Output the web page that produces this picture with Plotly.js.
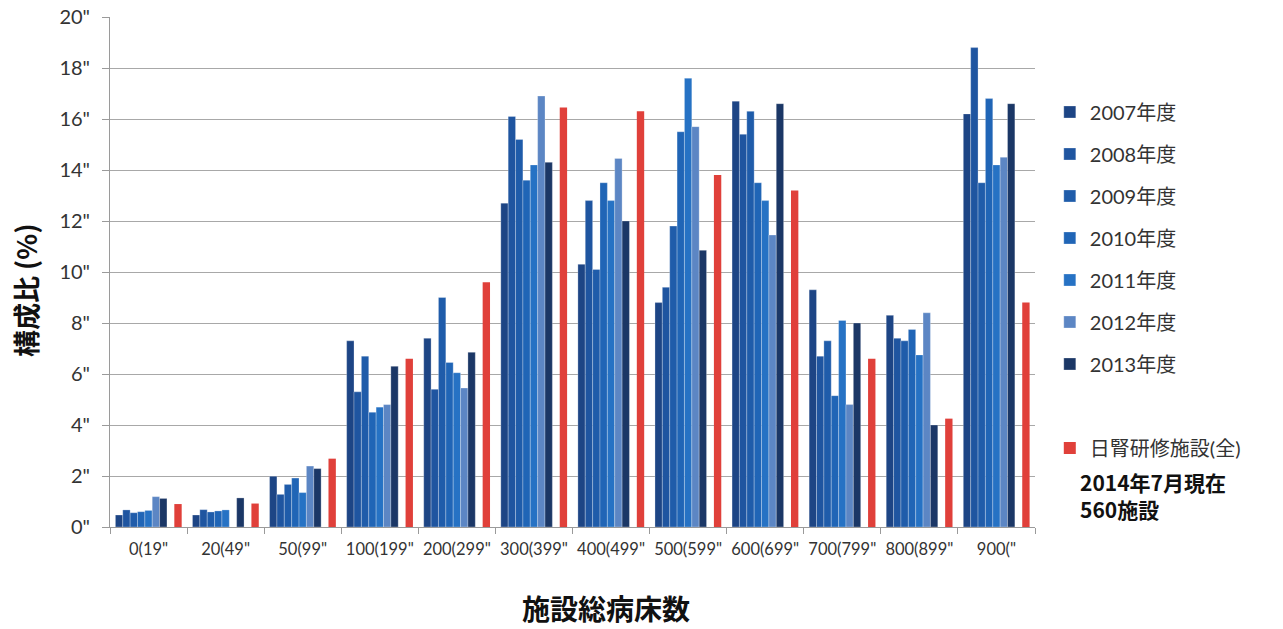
<!DOCTYPE html>
<html>
<head>
<meta charset="utf-8">
<script src="https://cdn.plot.ly/plotly-3.0.1.min.js"></script>
<style>
  html, body { margin: 0; padding: 0; background: #ffffff; }
  #chart { width: 1283px; height: 629px; }
</style>
</head>
<body>
<div id="chart"></div>
<script>
// ---- data ----
const categories = ['0(19"', '20(49"', '50(99"', '100(199"', '200(299"', '300(399"',
                    '400(499"', '500(599"', '600(699"', '700(799"', '800(899"', '900("'];

const fy2007 = [0.47, 0.47, 1.99, 7.3, 7.4, 12.7, 10.3, 8.8, 16.7, 9.3, 8.3, 16.2];
const fy2008 = [0.67, 0.68, 1.28, 5.3, 5.4, 16.1, 12.8, 9.4, 15.4, 6.7, 7.4, 18.8];
const fy2009 = [0.56, 0.59, 1.67, 6.7, 9.0, 15.2, 10.1, 11.8, 16.3, 7.3, 7.3, 13.5];
const fy2010 = [0.60, 0.63, 1.92, 4.5, 6.45, 13.6, 13.5, 15.5, 13.5, 5.15, 7.75, 16.8];
const fy2011 = [0.65, 0.67, 1.35, 4.7, 6.05, 14.2, 12.8, 17.6, 12.8, 8.1, 6.75, 14.2];
const fy2012 = [1.19, null, 2.39, 4.8, 5.45, 16.9, 14.45, 15.7, 11.45, 4.8, 8.4, 14.5];
const fy2013 = [1.12, 1.14, 2.29, 6.3, 6.85, 14.3, 12.0, 10.85, 16.6, 8.0, 4.0, 16.6];
const nichijin = [0.9, 0.92, 2.68, 6.6, 9.6, 16.45, 16.3, 13.8, 13.2, 6.6, 4.25, 8.8];
const spacer   = [0, 0, 0, 0, 0, 0, 0, 0, 0, 0, 0, 0];

const seriesNames = ['2007年度', '2008年度', '2009年度', '2010年度', '2011年度', '2012年度', '2013年度'];
const seriesValues = [fy2007, fy2008, fy2009, fy2010, fy2011, fy2012, fy2013];
const seriesColors = ['#1d4585', '#1f55a0', '#1f5caa', '#2065b6', '#2672c4', '#5c86c4', '#1b3766'];
const redName = '日腎研修施設(全)';
const redColor = '#e0403a';

const yTickVals = [0, 2, 4, 6, 8, 10, 12, 14, 16, 18, 20];
const yTickText = ['0"', '2"', '4"', '6"', '8"', '10"', '12"', '14"', '16"', '18"', '20"'];

const fontFamily = 'Lato, "Noto Sans CJK JP", sans-serif';
const boldFamily = '"Noto Sans CJK JP", sans-serif';

// ---- traces ----
const traces = seriesValues.map((vals, i) => ({
  type: 'bar',
  name: seriesNames[i],
  x: categories,
  y: vals,
  legendgroup: 'g' + i,
  marker: { color: seriesColors[i], line: { width: 0.6, color: 'rgba(255,255,255,0.45)' } },
  hoverinfo: 'x+y+name'
}));
traces.push({
  type: 'bar',
  name: '\u00a0',
  x: categories,
  y: spacer,
  legendgroup: 'gs',
  marker: { color: 'rgba(0,0,0,0)' },
  hoverinfo: 'skip'
});
traces.push({
  type: 'bar',
  name: redName,
  x: categories,
  y: nichijin,
  legendgroup: 'gr',
  marker: { color: redColor },
  hoverinfo: 'x+y+name'
});

// ---- layout ----
const layout = {
  width: 1283,
  height: 629,
  margin: { l: 110, r: 248, t: 17, b: 102, pad: 0 },
  paper_bgcolor: '#ffffff',
  plot_bgcolor: '#ffffff',
  barmode: 'group',
  bargap: 0.14,
  bargroupgap: 0,
  font: { family: fontFamily, color: '#333333' },
  xaxis: {
    type: 'category',
    showgrid: false,
    showline: true,
    linecolor: '#9a9a9a',
    linewidth: 1,
    ticks: 'outside',
    tickson: 'boundaries',
    ticklen: 6,
    tickcolor: '#9a9a9a',
    tickangle: 0,
    tickfont: { size: 16.5, family: fontFamily, color: '#333333' },
    ticklabelstandoff: 7,
    zeroline: false
  },
  yaxis: {
    range: [0, 20],
    tickvals: yTickVals,
    ticktext: yTickText,
    showgrid: true,
    gridcolor: '#a8a8a8',
    gridwidth: 1,
    showline: true,
    linecolor: '#9a9a9a',
    linewidth: 1,
    ticks: 'outside',
    ticklen: 7,
    tickcolor: '#9a9a9a',
    tickfont: { size: 20, family: fontFamily, color: '#333333' },
    ticklabelstandoff: 8,
    zeroline: false
  },
  legend: {
    x: 1.016,
    xanchor: 'left',
    y: 0.852,
    yanchor: 'top',
    font: { size: 20, family: fontFamily, color: '#333333' },
    tracegroupgap: 13,
    bgcolor: 'rgba(0,0,0,0)'
  },
  annotations: [
    {
      text: '<b>構成比 (%)</b>',
      xref: 'paper', yref: 'paper',
      x: -0.0906, y: 0.465,
      xanchor: 'center', yanchor: 'middle',
      textangle: -90,
      showarrow: false,
      font: { size: 27, family: boldFamily, color: '#111111' }
    },
    {
      text: '<b>施設総病床数</b>',
      xref: 'paper', yref: 'paper',
      x: 0.536, y: -0.158,
      xanchor: 'center', yanchor: 'middle',
      showarrow: false,
      font: { size: 28, family: boldFamily, color: '#111111' }
    },
    {
      text: '<b>2014年7月現在<br>560施設</b>',
      xref: 'paper', yref: 'paper',
      x: 1.046, y: 0.062,
      xanchor: 'left', yanchor: 'middle',
      align: 'left',
      showarrow: false,
      font: { size: 21, family: boldFamily, color: '#111111' }
    }
  ]
};

Plotly.newPlot('chart', traces, layout, { displayModeBar: false, staticPlot: true });
</script>
</body>
</html>
